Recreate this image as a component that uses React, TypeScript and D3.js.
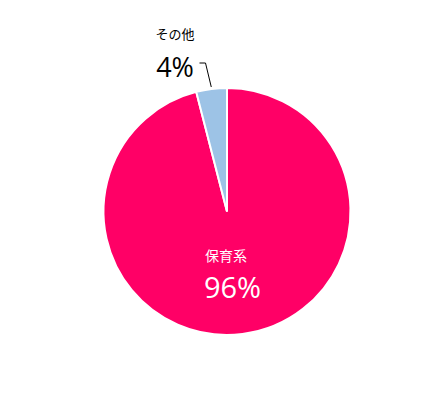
import { useEffect, useRef } from "react";
import * as d3 from "d3";

const categories = ["保育系", "その他"];
const values = [96, 4];
const colors = ["#FF0066", "#9DC3E6"];

const width = 442;
const height = 400;
const cx = 227;
const cy = 211.5;
const radius = 123.5;

export default function App() {
  const svgRef = useRef<SVGSVGElement>(null);

  useEffect(() => {
    if (!svgRef.current) return;
    const svg = d3.select(svgRef.current);
    svg.selectAll("*").remove();

    const data = categories.map((c, i) => ({ label: c, value: values[i], color: colors[i] }));
    const pie = d3.pie<any>().value((d) => d.value).sort(null);
    const arcs = pie(data);
    const arc = d3.arc<any>().innerRadius(0).outerRadius(radius);

    const g = svg.append("g").attr("transform", `translate(${cx},${cy})`);

    g.selectAll("path")
      .data(arcs)
      .join("path")
      .attr("d", arc)
      .attr("fill", (d) => d.data.color)
      .attr("stroke", "#fff")
      .attr("stroke-width", 2);

    const font = "'Noto Sans CJK JP', 'Noto Sans', sans-serif";
    const numFont = "'Open Sans', sans-serif";

    // inside label for big slice
    const big = arcs[0];
    g.append("text")
      .attr("x", -1)
      .attr("y", 43)
      .attr("text-anchor", "middle")
      .attr("dominant-baseline", "central")
      .attr("fill", "#fff")
      .attr("font-family", font)
      .attr("font-size", 14)
      .text(big.data.label);
    g.append("text")
      .attr("x", 5.5)
      .attr("y", 86.5)
      .attr("text-anchor", "middle")
      .attr("fill", "#fff")
      .attr("font-family", numFont)
      .attr("font-size", 29)
      .text(`${big.data.value}%`);

    // outside label for small slice with leader line
    const small = arcs[1];
    const mid = (small.startAngle + small.endAngle) / 2;
    const ex = Math.sin(mid) * (radius + 2);
    const ey = -Math.cos(mid) * (radius + 2);
    const lx = -21.5;
    const ly = -148.5;
    g.append("polyline")
      .attr("points", `${ex},${ey} ${lx},${ly} ${lx - 6},${ly}`)
      .attr("fill", "none")
      .attr("stroke", "#000")
      .attr("stroke-width", 1);
    g.append("text")
      .attr("x", -52)
      .attr("y", -178)
      .attr("text-anchor", "middle")
      .attr("dominant-baseline", "central")
      .attr("fill", "#000")
      .attr("font-family", font)
      .attr("font-size", 13)
      .text(small.data.label);
    g.append("text")
      .attr("x", -52)
      .attr("y", -134.5)
      .attr("text-anchor", "middle")
      .attr("fill", "#000")
      .attr("font-family", numFont)
      .attr("font-size", 27)
      .text(`${small.data.value}%`);
  }, []);

  return (
    <svg
      ref={svgRef}
      width={width}
      height={height}
      style={{ position: "absolute", left: 0, top: 0, background: "#fff" }}
    />
  );
}
